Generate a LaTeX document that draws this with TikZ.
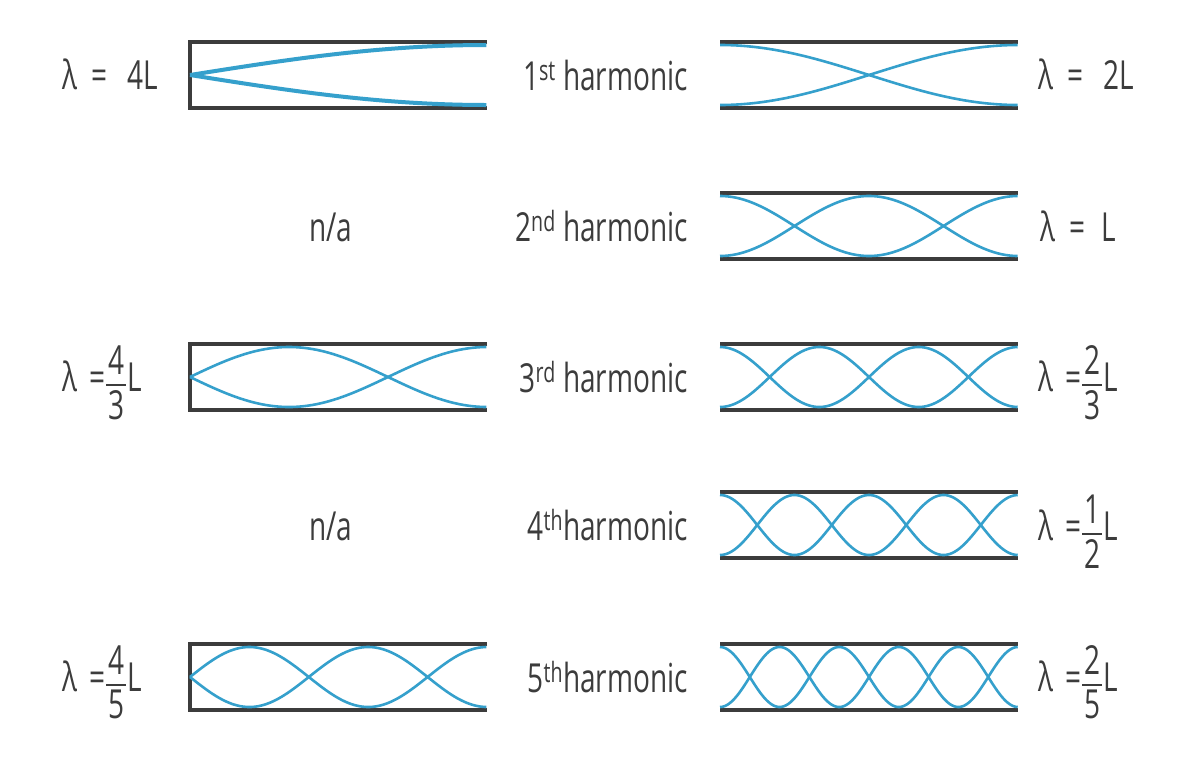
\documentclass[tikz,border=0pt]{standalone}
\usepackage{fontspec}
\setmainfont[FakeStretch=0.7]{Open Sans}
\definecolor{ink}{HTML}{3C3C3C}
\definecolor{wblue}{HTML}{35A0CC}
\newcommand\fr[2]{\ensuremath{\displaystyle{\mbox{\kern2pt#1\kern2pt}\above1.6pt\mbox{\kern2pt#2\kern2pt}}}}
\newcommand\cpipe[3]{% center y, harmonic n, wave width
  \draw[pipe] (487,#1-33) -- (190,#1-33) -- (190,#1+33) -- (487,#1+33);
  \draw[wave,line width=#3] plot[domain=0:1,samples=150] ({190+297*\x},{#1-30*sin(90*#2*\x)});
  \draw[wave,line width=#3] plot[domain=0:1,samples=150] ({190+297*\x},{#1+30*sin(90*#2*\x)});
}
\newcommand\opipe[2]{% center y, harmonic n
  \draw[pipe] (720,#1-33) -- (1018,#1-33);
  \draw[pipe] (720,#1+33) -- (1018,#1+33);
  \draw[wave] plot[domain=0:1,samples=200] ({720+298*\x},{#1-30*cos(180*#2*\x)});
  \draw[wave] plot[domain=0:1,samples=200] ({720+298*\x},{#1+30*cos(180*#2*\x)});
}
\begin{document}
\begin{tikzpicture}[x=1pt,y=-1pt,
  pipe/.style={draw=ink,line width=4pt},
  wave/.style={draw=wblue,line width=2.6pt},
  lbl/.style={text=ink,font=\fontsize{40}{46}\selectfont,inner sep=0pt}]
\useasboundingbox[fill=white] (0,0) rectangle (1200,756);
% closed pipes
\cpipe{75}{1}{4pt}
\cpipe{377}{3}{2.6pt}
\cpipe{677}{5}{2.6pt}
% open pipes
\opipe{75}{1}
\opipe{226}{2}
\opipe{377}{3}
\opipe{525}{4}
\opipe{677}{5}
% left labels
\node[lbl,anchor=base west] (L1) at (62,89) {λ\hspace{14pt}=\hspace{20pt}4L};
\node[lbl,anchor=base] (L2) at (331,241) {n/a};
\node[lbl,anchor=base west] (L3) at (62,391) {λ\hspace{12pt}=\fr{4}{3}L};
\node[lbl,anchor=base] (L4) at (331,540) {n/a};
\node[lbl,anchor=base west] (L5) at (62,691) {λ\hspace{12pt}=\fr{4}{5}L};
% middle labels
\node[lbl,anchor=base east] (H1) at (688,90) {1\textsuperscript{st} harmonic};
\node[lbl,anchor=base east] (H2) at (688,241) {2\textsuperscript{nd} harmonic};
\node[lbl,anchor=base east] (H3) at (688,392) {3\textsuperscript{rd} harmonic};
\node[lbl,anchor=base east] (H4) at (688,540) {4\textsuperscript{th}harmonic};
\node[lbl,anchor=base east] (H5) at (688,692) {5\textsuperscript{th}harmonic};
% right labels
\node[lbl,anchor=base west] (R1) at (1038,89) {λ\hspace{14pt}=\hspace{20pt}2L};
\node[lbl,anchor=base west] (R2) at (1040,241) {λ\hspace{14pt}=\hspace{16pt}L};
\node[lbl,anchor=base west] (R3) at (1038,391) {λ\hspace{12pt}=\fr{2}{3}L};
\node[lbl,anchor=base west] (R4) at (1038,540) {λ\hspace{12pt}=\fr{1}{2}L};
\node[lbl,anchor=base west] (R5) at (1038,691) {λ\hspace{12pt}=\fr{2}{5}L};
\end{tikzpicture}
\end{document}
